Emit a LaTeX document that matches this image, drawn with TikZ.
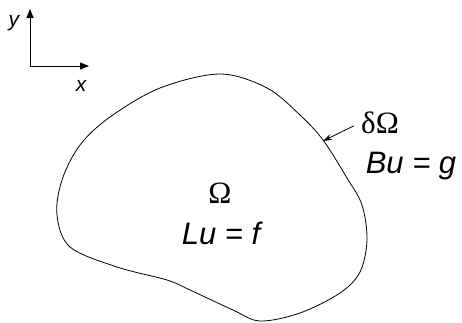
\documentclass[tikz,border=0pt]{standalone}
\usepackage{fontspec}
\setmainfont{Liberation Serif}
\setsansfont{Liberation Sans}
\usetikzlibrary{arrows.meta}
\tikzset{
  axis/.style={-{Triangle[length=9pt, width=7pt]}, line width=0.9pt},
  pointer/.style={-{Stealth[length=9pt, width=6pt]}, line width=0.8pt},
  boundary/.style={line width=0.8pt},
  axlabel/.style={anchor=base, inner sep=0pt, font=\sffamily\itshape\fontsize{21}{24}\selectfont},
  eqlabel/.style={anchor=base, inner sep=0pt, font=\sffamily\itshape\fontsize{31}{36}\selectfont},
  greeklabel/.style={anchor=base, inner sep=0pt, font=\rmfamily\fontsize{31}{36}\selectfont}
}

\begin{document}
\begin{tikzpicture}[x=1pt, y=-1pt]
\useasboundingbox (0,0) rectangle (462,322);

% Coordinate axes
\coordinate (o) at (30,66);
\coordinate (xend) at (89,66);
\coordinate (yend) at (30,9);
\draw[axis] (o) -- (xend);
\draw[axis] (o) -- (yend);
\node[axlabel] (xlab) at (81,91) {x};
\node[axlabel] (ylab) at (14,26) {y};

% Domain
\draw[boundary] plot[smooth cycle, tension=0.55] coordinates {
  (220,74) (267,88) (300,115) (323,140) (347,178) (362,205)
  (367,240) (360,272) (340,293) (300,313) (260,321) (233,310)
  (190,290) (167,280) (117,267) (70,247) (57,215) (62,180)
  (80,145) (110,117) (160,88)};

\node[greeklabel] (omega) at (220,203) {Ω};
\node[eqlabel] (inner) at (221,244) {Lu = f};

% Boundary
\coordinate (hit) at (323,141);
\node[greeklabel] (domega) at (380,133) {δΩ};
\node[eqlabel] (outer) at (411,173) {Bu = g};
\draw[pointer, shorten <=8pt] (domega.west) -- (hit);

\end{tikzpicture}
\end{document}
